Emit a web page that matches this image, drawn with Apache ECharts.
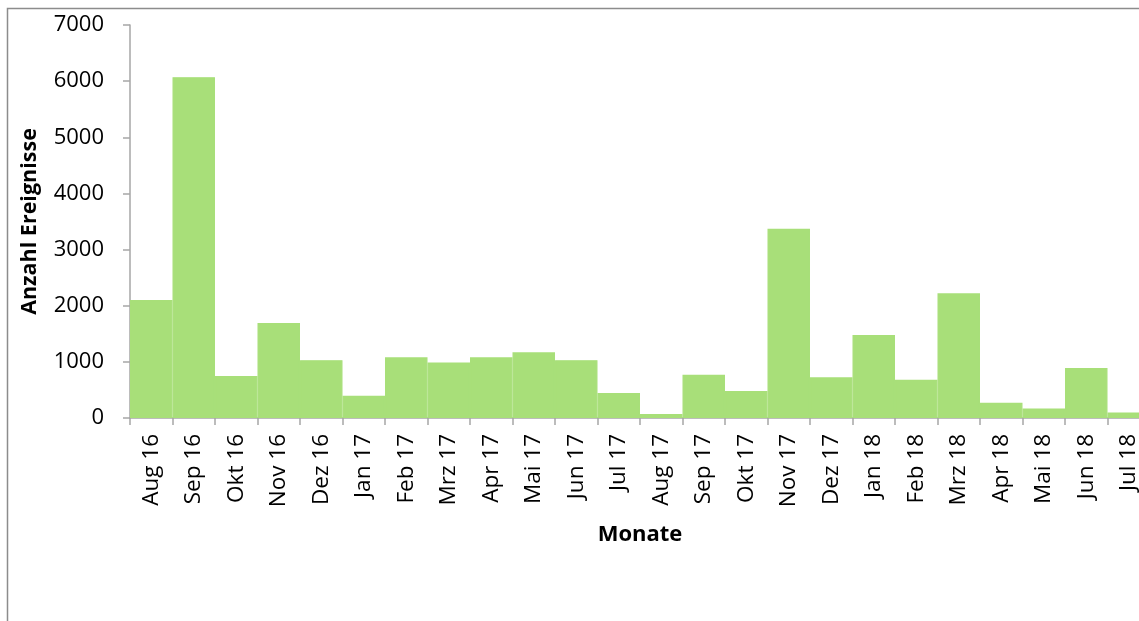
<!DOCTYPE html>
<html><head><meta charset="utf-8">
<script src="https://cdn.jsdelivr.net/npm/echarts@6/dist/echarts.min.js"></script>
<style>html,body{margin:0;padding:0;background:#fff}#c{width:1139px;height:621px}</style>
</head><body><div id="c"></div>
<script>
const categories = ["Aug 16","Sep 16","Okt 16","Nov 16","Dez 16","Jan 17","Feb 17","Mrz 17","Apr 17","Mai 17","Jun 17","Jul 17","Aug 17","Sep 17","Okt 17","Nov 17","Dez 17","Jan 18","Feb 18","Mrz 18","Apr 18","Mai 18","Jun 18","Jul 18"];
const events = [2100,6070,750,1690,1030,395,1080,990,1080,1170,1030,445,70,770,480,3370,725,1480,680,2220,270,170,890,100];
const yTicks = {min:0, max:7000, interval:1000};
const chart = echarts.init(document.getElementById('c'));
const font = '"Open Sans", sans-serif';
chart.setOption({
  animation:false,
  graphic:[{type:'rect',shape:{x:7.5,y:8.5,width:1300,height:800},style:{fill:'none',stroke:'#8c8c8c',lineWidth:1.5},silent:true}],
  grid:{left:130,top:25,width:1020,height:393,outerBoundsMode:'none',containLabel:false},
  xAxis:{type:'category',data:categories,
    axisLine:{lineStyle:{color:'#a6a6a6',width:1.5}},
    axisTick:{show:true,length:7,alignWithLabel:false,lineStyle:{color:'#a6a6a6',width:1.5}},
    axisLabel:{rotate:90,color:'#000',fontSize:22.5,fontFamily:font,margin:16,interval:0},
    name:'Monate',nameLocation:'middle',nameGap:106,
    nameTextStyle:{fontWeight:'bold',fontSize:22,color:'#000',fontFamily:font}},
  yAxis:{type:'value',min:yTicks.min,max:yTicks.max,interval:yTicks.interval,
    axisLine:{show:true,lineStyle:{color:'#a6a6a6',width:1.5}},
    axisTick:{show:true,length:7,lineStyle:{color:'#a6a6a6',width:1.5}},
    splitLine:{show:false},
    axisLabel:{color:'#000',fontSize:22,fontFamily:font,margin:26,formatter:v=>String(v)},
    name:'Anzahl Ereignisse',nameLocation:'middle',nameGap:89,
    nameTextStyle:{fontWeight:'bold',fontSize:21.5,color:'#000',fontFamily:font}},
  series:[{type:'bar',data:events,barCategoryGap:'0%',z:1,itemStyle:{color:'#a8df79',borderColor:'#a8df79',borderWidth:1.2}}]
});
</script></body></html>
